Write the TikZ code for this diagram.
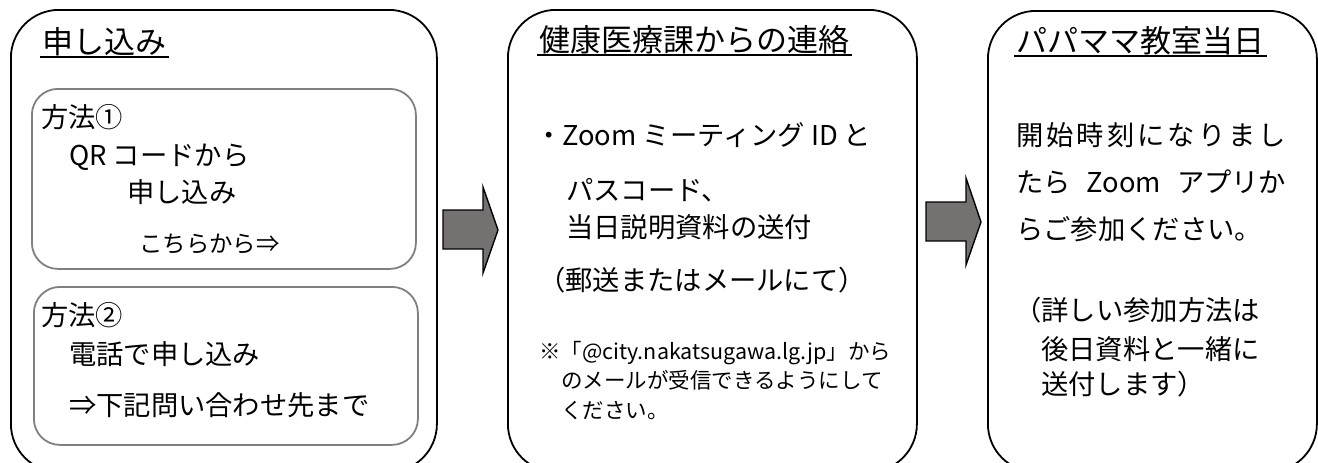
\documentclass[tikz,border=0pt]{standalone}
\usepackage{fontspec}
\newfontfamily\jpfont{Noto Sans CJK JP}
\definecolor{boxgray}{RGB}{128,128,128}
\definecolor{arrowgray}{RGB}{118,113,113}

\begin{document}
\begin{tikzpicture}[x=1pt, y=-1pt,
  outerbox/.style={draw=black, line width=1.8pt, rounded corners=48pt, anchor=north west, inner sep=0pt},
  innerbox/.style={draw=boxgray, line width=1.8pt, rounded corners=26pt, anchor=north west, inner sep=0pt},
  titletext/.style={anchor=west, inner sep=0pt, yshift=-1pt, text height=0.88em, text depth=0.12em, font=\jpfont\fontsize{31}{36}\selectfont},
  bodytext/.style={anchor=west, inner sep=0pt, yshift=-4pt, text height=0.88em, text depth=0.12em, font=\jpfont\fontsize{27.3}{32}\selectfont},
  smalltext/.style={bodytext, font=\jpfont\fontsize{23.4}{28}\selectfont},
  notetext/.style={bodytext, yshift=1pt, font=\jpfont\fontsize{21.5}{26}\selectfont},
  uline/.style={line width=1.6pt},
  blockarrow/.style={fill=arrowgray, draw=black, line width=1.4pt, line join=miter}]

  % --- 画面の大きさ (下端は箱が切れている) ---
  \useasboundingbox (0,0) rectangle (1318,463);
  \clip (0,0) rectangle (1318,463);

  % --- 外枠 (3つのステップ) ---
  \node[outerbox, minimum width=426pt, minimum height=462pt] (apply)   at (10,9)  {};
  \node[outerbox, minimum width=409pt, minimum height=462pt] (contact) at (507,9) {};
  \node[outerbox, minimum width=329pt, minimum height=461pt] (dayof)   at (987,10) {};

  % --- 見出し ---
  \node[titletext] (t1) at (42,49)   {申し込み};
  \node[titletext] (t2) at (539,47)  {健康医療課からの連絡};
  \node[titletext] (t3) at (1016,48) {パパママ教室当日};

  % 見出しの下線
  \foreach \t in {t1, t2, t3} {
    \draw[uline] ([xshift=-2pt, yshift=-2pt]\t.south west) -- ([xshift=3pt, yshift=-2pt]\t.south east);
  }

  % --- 申し込み: 方法①と方法② ---
  \node[innerbox, minimum width=384pt, minimum height=180pt] (method1) at (31,88)  {};
  \node[innerbox, minimum width=384pt, minimum height=158pt] (method2) at (33,286) {};

  \node[bodytext]  (m1a) at (41,120)  {方法①};
  \node[bodytext]  (m1b) at (69,158)  {QR コードから};
  \node[bodytext]  (m1c) at (127,195) {申し込み};
  \node[smalltext] (m1d) at (139,245) {こちらから⇒};

  \node[bodytext]  (m2a) at (41,318)  {方法②};
  \node[bodytext]  (m2b) at (69,357)  {電話で申し込み};
  \node[bodytext]  (m2c) at (69,408)  {⇒下記問い合わせ先まで};

  % --- 健康医療課からの連絡 ---
  \node[bodytext] (c1) at (535,138) {・Zoom ミーティング ID と};
  \node[bodytext] (c2) at (566,193) {パスコード、};
  \node[bodytext] (c3) at (566,230) {当日説明資料の送付};
  \node[bodytext] (c4) at (538,283) {（郵送またはメールにて）};

  \node[notetext] (n1) at (539,353) {※「@city.nakatsugawa.lg.jp」から};
  \node[notetext] (n2) at (561,382) {のメールが受信できるようにして};
  \node[notetext] (n3) at (561,412) {ください。};

  % --- パパママ教室当日 ---
  % 最初の2行は両端揃え (幅270)
  \node[bodytext] (d1) at (1016,138) {\makebox[270pt][s]{開\hfill 始\hfill 時\hfill 刻\hfill に\hfill な\hfill り\hfill ま\hfill し}};
  \node[bodytext] (d2) at (1016,185) {\makebox[270pt][s]{たら Zoom アプリか}};
  \node[bodytext] (d3) at (1016,232) {らご参加ください。};

  \node[bodytext] (d4) at (1014,313) {（詳しい参加方法は};
  \node[bodytext] (d5) at (1041,352) {後日資料と一緒に};
  \node[bodytext] (d6) at (1041,387) {送付します）};

  % --- 太い矢印 (ステップの間) ---
  \draw[blockarrow] (443,210) -- (483,210) -- (483,187) -- (498,230) -- (483,273) -- (483,249) -- (443,249) -- cycle;
  \draw[blockarrow] (926,202) -- (966,202) -- (966,178) -- (981,222) -- (966,265) -- (966,241) -- (926,241) -- cycle;

\end{tikzpicture}
\end{document}
